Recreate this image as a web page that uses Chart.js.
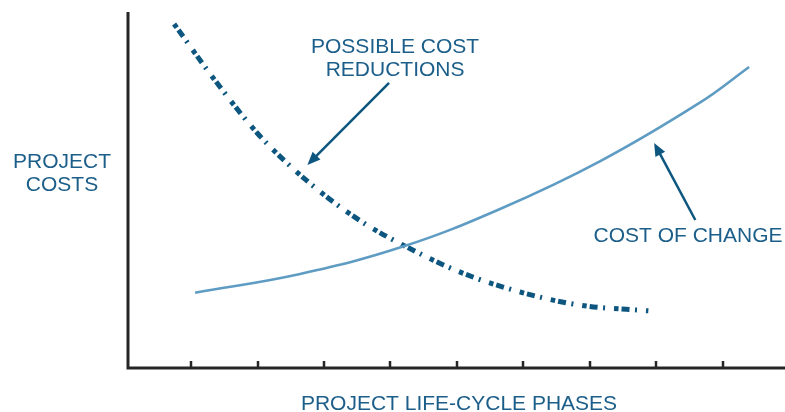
<!DOCTYPE html>
<html><head><meta charset="utf-8">
<script src="https://cdn.jsdelivr.net/npm/chart.js@4/dist/chart.umd.min.js"></script>
<style>html,body{margin:0;padding:0;background:#fff;overflow:hidden}</style>
</head><body>
<canvas id="c" width="785" height="412"></canvas>
<script>
// ---- data ----
const phaseTicks = [1, 2, 3, 4, 5, 6, 7, 8, 9];
const costOfChangeX = [1.06, 2.64, 4.19, 5.65, 7.16, 8.67, 9.40];
const costOfChangeY = [21.2, 26.5, 34.2, 44.8, 58.3, 74.9, 84.8];
const reductionsX = [0.744, 1.361, 1.994, 2.491, 3.063, 3.620, 4.193, 5.051, 5.955, 6.858, 7.883];
const reductionsY = [96.9, 81.0, 66.2, 56.9, 47.9, 40.6, 34.6, 27.0, 21.4, 17.7, 16.1];
const xAxisTitle = 'PROJECT LIFE-CYCLE PHASES';
const yAxisTitle = ['PROJECT', 'COSTS'];
const reductionsLabel = ['POSSIBLE COST', 'REDUCTIONS'];
const changeLabel = ['COST OF CHANGE'];

const TEXT = '#1b5e89';
const DARK = '#0d5680';
const LIGHT = '#5f9cc4';
const AXIS = '#262626';
const FONT = '21px "Liberation Sans", Arial, sans-serif';

function pts(xs, ys) { return xs.map((x, i) => ({ x: x, y: ys[i] })); }

function arrow(ctx, x1, y1, x2, y2) {
  const ang = Math.atan2(y2 - y1, x2 - x1);
  const hl = 13, hw = 5.5;
  const bx = x2 - hl * Math.cos(ang), by = y2 - hl * Math.sin(ang);
  ctx.beginPath();
  ctx.moveTo(x1, y1);
  ctx.lineTo(bx + 2 * Math.cos(ang), by + 2 * Math.sin(ang));
  ctx.lineWidth = 2.5;
  ctx.strokeStyle = DARK;
  ctx.stroke();
  ctx.beginPath();
  ctx.moveTo(x2, y2);
  ctx.lineTo(bx - hw * Math.sin(ang), by + hw * Math.cos(ang));
  ctx.lineTo(bx + hw * Math.sin(ang), by - hw * Math.cos(ang));
  ctx.closePath();
  ctx.fillStyle = DARK;
  ctx.fill();
}

const decor = {
  id: 'decor',
  afterDraw(chart) {
    const ctx = chart.ctx, xs = chart.scales.x, ys = chart.scales.y, a = chart.chartArea;
    const X = v => xs.getPixelForValue(v), Y = v => ys.getPixelForValue(v);
    ctx.save();
    // axes
    ctx.strokeStyle = AXIS;
    ctx.lineWidth = 3;
    ctx.beginPath();
    ctx.moveTo(a.left, a.top - 1);
    ctx.lineTo(a.left, a.bottom + 1.5);
    ctx.moveTo(a.left - 1.5, a.bottom);
    ctx.lineTo(a.right, a.bottom);
    ctx.stroke();
    // tick marks (pointing up into the plot)
    ctx.lineWidth = 2.5;
    ctx.beginPath();
    phaseTicks.forEach(t => {
      const px = Math.round(X(t));
      ctx.moveTo(px, a.bottom - 7);
      ctx.lineTo(px, a.bottom);
    });
    ctx.stroke();
    // texts
    ctx.fillStyle = TEXT;
    ctx.font = FONT;
    ctx.textAlign = 'center';
    ctx.textBaseline = 'alphabetic';
    ctx.fillText(xAxisTitle, 459, 410);
    ctx.fillText(yAxisTitle[0], 62, 168);
    ctx.fillText(yAxisTitle[1], 62, 191);
    ctx.fillText(reductionsLabel[0], X(4.07), 53);
    ctx.fillText(reductionsLabel[1], X(4.07), 76);
    ctx.fillText(changeLabel[0], X(8.48), 242);
    // arrows (data coordinates)
    arrow(ctx, X(3.98), Y(80.3), X(2.75), Y(57.2));
    arrow(ctx, X(8.59), Y(41.7), X(7.97), Y(63.4));
    ctx.restore();
  }
};

new Chart(document.getElementById('c'), {
  type: 'line',
  data: {
    datasets: [
      {
        label: 'Cost of change',
        data: pts(costOfChangeX, costOfChangeY),
        borderColor: LIGHT,
        borderWidth: 2.6,
        pointRadius: 0,
        tension: 0.4,
        fill: false
      },
      {
        label: 'Possible cost reductions',
        data: pts(reductionsX, reductionsY),
        borderColor: DARK,
        borderWidth: 5,
        borderDash: [4.5, 3, 8, 5.5, 2, 9],
        borderCapStyle: 'butt',
        pointRadius: 0,
        cubicInterpolationMode: 'monotone',
        fill: false
      }
    ]
  },
  options: {
    responsive: false,
    animation: false,
    devicePixelRatio: 1,
    layout: { padding: { left: 128, top: 13, right: 0, bottom: 44 } },
    plugins: { legend: { display: false }, tooltip: { enabled: false }, title: { display: false } },
    scales: {
      x: { type: 'linear', display: false, min: 0.05, max: 9.94 },
      y: { type: 'linear', display: false, min: 0, max: 100 }
    }
  },
  plugins: [decor]
});
</script>
</body></html>
